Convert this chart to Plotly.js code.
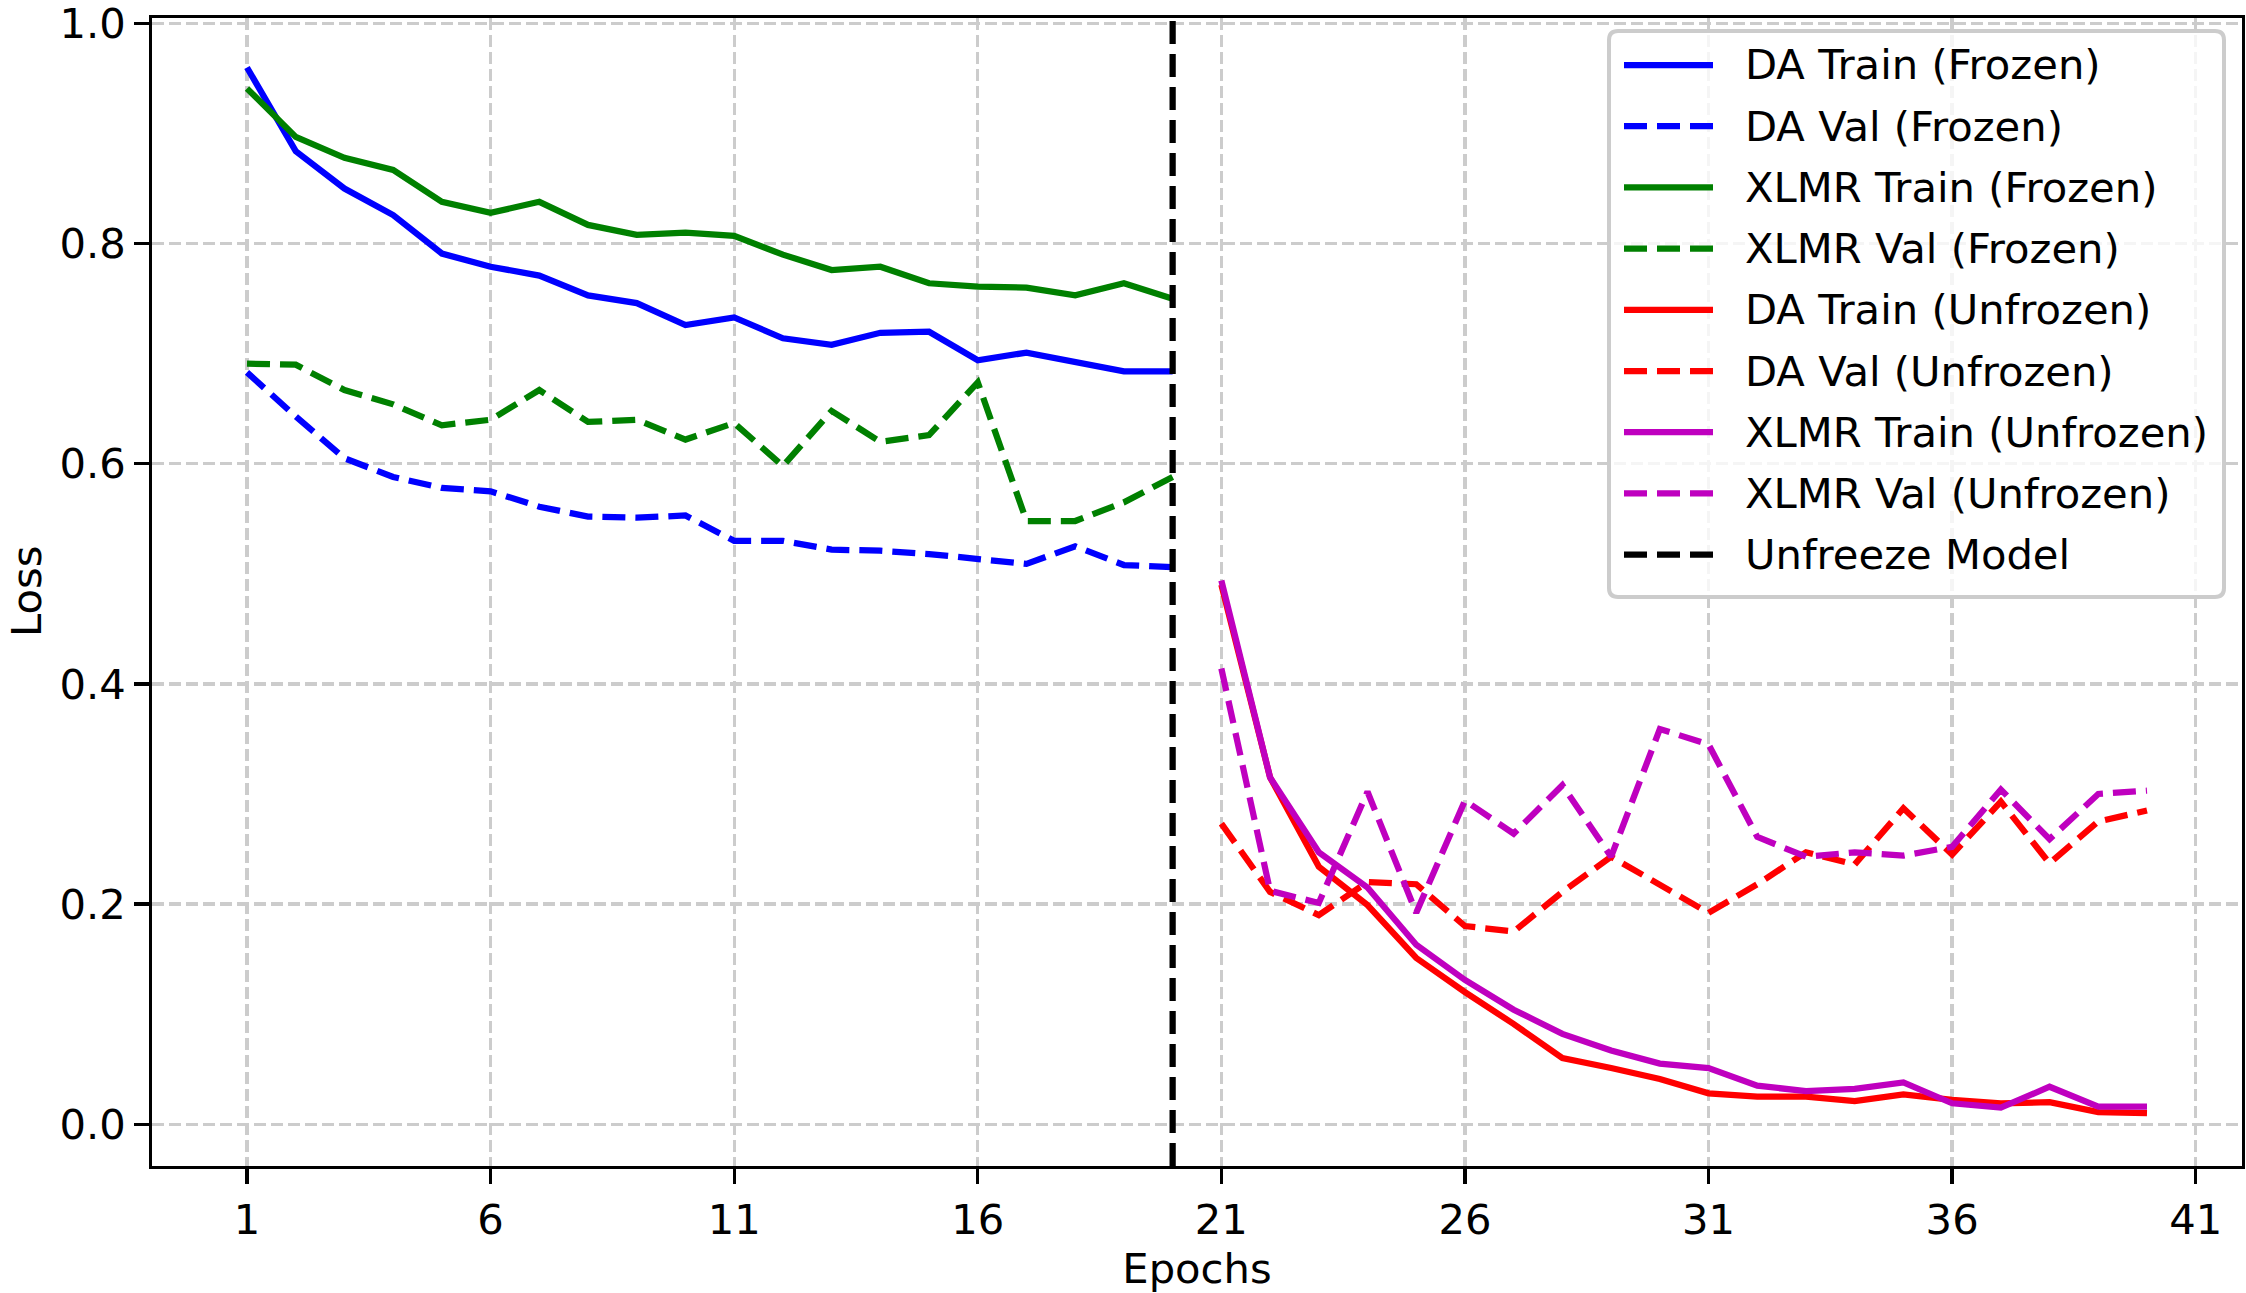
<!DOCTYPE html>
<html>
<head>
<meta charset="utf-8">
<script src="https://cdn.plot.ly/plotly-3.0.1.min.js"></script>
<style>html,body{margin:0;padding:0;background:#fff;}#chart{width:2246px;height:1293px;}</style>
</head>
<body>
<div id="chart"></div>
<script>
// ---- data ----
const epochsFrozen = [1,2,3,4,5,6,7,8,9,10,11,12,13,14,15,16,17,18,19,20];
const epochsUnfrozen = [21,22,23,24,25,26,27,28,29,30,31,32,33,34,35,36,37,38,39,40];
const daTrainFrozen = [0.960,0.884,0.850,0.826,0.791,0.779,0.771,0.753,0.746,0.726,0.733,0.714,0.708,0.719,0.720,0.694,0.701,0.693,0.684,0.684];
const daValFrozen = [0.683,0.643,0.605,0.588,0.578,0.575,0.561,0.552,0.551,0.553,0.530,0.530,0.522,0.521,0.518,0.513,0.509,0.525,0.508,0.506];
const xlmrTrainFrozen = [0.941,0.897,0.878,0.867,0.838,0.828,0.838,0.817,0.808,0.810,0.807,0.790,0.776,0.779,0.764,0.761,0.760,0.753,0.764,0.750];
const xlmrValFrozen = [0.691,0.690,0.667,0.654,0.635,0.640,0.667,0.638,0.640,0.622,0.637,0.598,0.648,0.620,0.626,0.674,0.548,0.548,0.565,0.588];
const daTrainUnfrozen = [0.490,0.315,0.234,0.199,0.151,0.120,0.091,0.060,0.051,0.041,0.028,0.025,0.025,0.021,0.027,0.022,0.019,0.020,0.011,0.010];
const daValUnfrozen = [0.273,0.211,0.190,0.220,0.218,0.180,0.175,0.211,0.243,0.218,0.192,0.218,0.247,0.236,0.287,0.245,0.293,0.237,0.275,0.285];
const xlmrTrainUnfrozen = [0.494,0.315,0.247,0.215,0.163,0.131,0.104,0.082,0.067,0.055,0.051,0.035,0.030,0.032,0.038,0.019,0.015,0.034,0.016,0.016];
const xlmrValUnfrozen = [0.414,0.212,0.201,0.302,0.192,0.294,0.264,0.308,0.243,0.359,0.345,0.261,0.243,0.247,0.244,0.252,0.304,0.259,0.300,0.303];
const unfreezeEpoch = 20;
const unfreezeLabel = 'Unfreeze Model';
const xTitle = 'Epochs';
const yTitle = 'Loss';
const xTickVals = [1,6,11,16,21,26,31,36,41];
const yTickVals = [0.0,0.2,0.4,0.6,0.8,1.0];

const FONT = 'DejaVu Sans';
const FS = 41.7;
const LW = 6.25;
const DASH = '23px,10px';

// plot-area geometry in pixels (for legend / title placement)
const W = 2246, H = 1293;
const M = {l: 152, r: 4, t: 18, b: 127};
const PW = W - M.l - M.r, PH = H - M.t - M.b;
const px = X => (X - M.l) / PW;
const py = Y => 1 - (Y - M.t) / PH;

function line(x, y, name, color, dashed) {
  return {x: x, y: y, name: name, type: 'scatter', mode: 'lines', showlegend: false,
    line: {color: color, width: LW, dash: dashed ? DASH : 'solid'}};
}

const traces = [
  line(epochsFrozen, daTrainFrozen, 'DA Train (Frozen)', '#0000ff', false),
  line(epochsFrozen, daValFrozen, 'DA Val (Frozen)', '#0000ff', true),
  line(epochsFrozen, xlmrTrainFrozen, 'XLMR Train (Frozen)', '#008000', false),
  line(epochsFrozen, xlmrValFrozen, 'XLMR Val (Frozen)', '#008000', true),
  line(epochsUnfrozen, daTrainUnfrozen, 'DA Train (Unfrozen)', '#ff0000', false),
  line(epochsUnfrozen, daValUnfrozen, 'DA Val (Unfrozen)', '#ff0000', true),
  line(epochsUnfrozen, xlmrTrainUnfrozen, 'XLMR Train (Unfrozen)', '#bf00bf', false),
  line(epochsUnfrozen, xlmrValUnfrozen, 'XLMR Val (Unfrozen)', '#bf00bf', true)
];

const shapes = [{
  type: 'line', xref: 'x', yref: 'y domain', x0: unfreezeEpoch, x1: unfreezeEpoch, y0: 0, y1: 1,
  line: {color: '#000', width: LW, dash: DASH}, layer: 'above'
}];
const annotations = [];

// ---- y-axis title ----
annotations.push({xref: 'paper', yref: 'paper', x: px(26), y: 0.5, xanchor: 'center', yanchor: 'middle',
  text: yTitle, textangle: -90, showarrow: false, font: {family: FONT, size: FS, color: '#000'}});

// ---- legend (matplotlib-style box) ----
const legendItems = traces.map(t => ({name: t.name, color: t.line.color, dash: t.line.dash}))
  .concat([{name: unfreezeLabel, color: '#000', dash: DASH}]);
const LB = {l: 1609, r: 2224, t: 31, b: 597, rad: 9};
{
  const x0 = px(LB.l), x1 = px(LB.r), y0 = py(LB.b), y1 = py(LB.t);
  const rx = LB.rad / PW, ry = LB.rad / PH;
  const path = `M${x0 + rx},${y1} L${x1 - rx},${y1} Q${x1},${y1} ${x1},${y1 - ry} ` +
    `L${x1},${y0 + ry} Q${x1},${y0} ${x1 - rx},${y0} L${x0 + rx},${y0} Q${x0},${y0} ${x0},${y0 + ry} ` +
    `L${x0},${y1 - ry} Q${x0},${y1} ${x0 + rx},${y1} Z`;
  shapes.push({type: 'path', xref: 'paper', yref: 'paper', path: path,
    fillcolor: 'rgba(255,255,255,0.8)', line: {color: '#cccccc', width: 4}, layer: 'above'});
}
legendItems.forEach((it, i) => {
  const Y = 65 + 61.2 * i;
  shapes.push({type: 'line', xref: 'paper', yref: 'paper', x0: px(1624), x1: px(1713), y0: py(Y), y1: py(Y),
    line: {color: it.color, width: LW, dash: it.dash}, layer: 'above'});
  annotations.push({xref: 'paper', yref: 'paper', x: px(1743), y: py(Y), xanchor: 'left', yanchor: 'middle',
    text: it.name, showarrow: false, font: {family: FONT, size: FS, color: '#000'}});
});

const axisCommon = {
  showline: true, linecolor: '#000', linewidth: 3.3, mirror: true,
  ticks: 'outside', ticklen: 14.6, tickwidth: 3.3, tickcolor: '#000',
  showgrid: true, gridcolor: '#cccccc', gridwidth: 3.3, griddash: '12px,5px',
  zeroline: false, ticklabeloverflow: 'allow',
  tickfont: {family: FONT, size: FS, color: '#000'}
};

const layout = {
  width: W, height: H,
  margin: M,
  paper_bgcolor: '#fff', plot_bgcolor: '#fff',
  font: {family: FONT, size: FS, color: '#000'},
  xaxis: Object.assign({}, axisCommon, {
    range: [-0.95, 41.95], tickmode: 'array', tickvals: xTickVals,
    ticktext: xTickVals.map(String),
    title: {text: xTitle, font: {family: FONT, size: FS, color: '#000'}, standoff: 14}
  }),
  yaxis: Object.assign({}, axisCommon, {
    range: [-0.038, 1.005], tickmode: 'array', tickvals: yTickVals,
    ticktext: yTickVals.map(v => v.toFixed(1))
  }),
  shapes: shapes,
  annotations: annotations,
  showlegend: false
};

Plotly.newPlot('chart', traces, layout, {displayModeBar: false, staticPlot: true});
</script>
</body>
</html>
